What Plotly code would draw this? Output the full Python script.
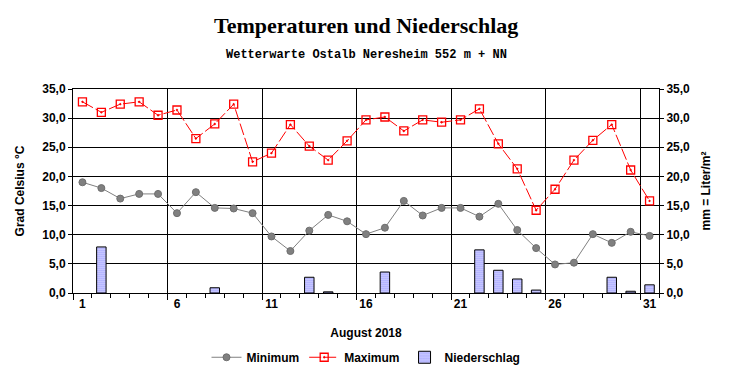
import plotly.graph_objects as go

days = list(range(1, 32))
t_min = [19.0, 18.0, 16.2, 17.0, 17.0, 13.7, 17.3, 14.6, 14.5, 13.7, 9.7,
         7.2, 10.7, 13.4, 12.3, 10.1, 11.2, 15.8, 13.3, 14.6, 14.6,
         13.1, 15.3, 10.8, 7.7, 4.9, 5.2, 10.1, 8.6, 10.5, 9.8]
t_max = [32.8, 31.0, 32.4, 32.8, 30.5, 31.4, 26.5, 29.0, 32.4, 22.5, 24.0,
         28.9, 25.2, 22.8, 26.1, 29.7, 30.2, 27.8, 29.7, 29.3, 29.7,
         31.6, 25.6, 21.3, 14.2, 17.8, 22.8, 26.2, 28.9, 21.1, 15.8]
precip = [0, 7.9, 0, 0, 0, 0, 0, 0.9, 0, 0, 0,
          0, 2.7, 0.2, 0, 0, 3.6, 0, 0, 0, 0,
          7.4, 3.9, 2.4, 0.5, 0, 0, 0, 2.7, 0.3, 1.4]
tick_days = [1, 6, 11, 16, 21, 26, 31]

FONT = "Liberation Sans, Arial, sans-serif"
bold = dict(family=FONT, size=12, color="black", weight="bold")

# the page body adds an 8px offset; compensate so the view matches 732x380
OFF = 8
W, H = 732 - OFF, 380 - OFF
ML, MR, MT, MB = 73 - OFF, 73, 89 - OFF, 87

fig = go.Figure()
fig.add_trace(go.Scatter(
    x=days, y=t_min, name="Minimum", mode="lines+markers",
    line=dict(color="#808080", width=1),
    marker=dict(symbol="circle", size=7, color="#808080", line=dict(color="#6e6e6e", width=1)),
    xaxis="x", yaxis="y"))
fig.add_trace(go.Scatter(
    x=days, y=t_max, name="Maximum", mode="lines+markers",
    line=dict(color="#ff0000", width=1, dash="12px,3px"),
    marker=dict(symbol="square-open-dot", size=8, color="#ff0000", line=dict(width=1.3)),
    xaxis="x", yaxis="y"))
fig.add_trace(go.Bar(
    x=days, y=[v if v > 0 else None for v in precip], name="Niederschlag", width=0.5,
    marker=dict(color="white", line=dict(color="black", width=1),
                pattern=dict(shape=".", fgcolor="#0000ff", bgcolor="white", size=2, solidity=0.6)),
    xaxis="x2", yaxis="y2"))

fig.update_layout(
    width=W, height=H,
    margin=dict(l=ML, r=MR, t=MT, b=MB, autoexpand=False),
    paper_bgcolor="white", plot_bgcolor="white",
    separators=",.",
    font=bold,
    showlegend=True,
    legend=dict(orientation="h", x=0.5, xanchor="center", y=-0.315, yanchor="middle",
                font=bold, traceorder="normal", itemwidth=30),
    xaxis=dict(range=[0.5, 31.5], tickmode="array", tickvals=tick_days,
               ticktext=[str(d) for d in tick_days], showgrid=False, ticks="",
               zeroline=False, showline=True, linecolor="black", linewidth=1, mirror=True,
               tickfont=bold, automargin=False,
               title=dict(text="August 2018", font=bold, standoff=18)),
    xaxis2=dict(range=[0.5, 31.5], overlaying="x", side="bottom", anchor="y2",
                tickmode="linear", tick0=0.5, dtick=5, showticklabels=False,
                showgrid=True, gridcolor="black", gridwidth=1,
                ticks="outside", ticklen=6, tickcolor="black",
                minor=dict(tickmode="linear", tick0=0.5, dtick=1, ticks="outside",
                           ticklen=4, tickcolor="black", showgrid=False),
                zeroline=False, showline=False, automargin=False),
    yaxis=dict(range=[0, 35], dtick=5, tick0=0, tickformat=".1f",
               showgrid=True, gridcolor="black", gridwidth=1,
               ticks="outside", ticklen=4, tickcolor="black",
               zeroline=False, showline=True, linecolor="black", mirror=True,
               tickfont=bold, automargin=False,
               title=dict(text="Grad Celsius °C", font=bold, standoff=15)),
    yaxis2=dict(range=[0, 35], dtick=5, tick0=0, tickformat=".1f", overlaying="y",
                side="right", anchor="x2", showgrid=False,
                ticks="outside", ticklen=4, tickcolor="black",
                zeroline=False, showline=True, linecolor="black",
                tickfont=bold, automargin=False,
                title=dict(text="mm = Liter/m²", font=bold, standoff=12)),
    annotations=[
        dict(text="Temperaturen und Niederschlag", x=0.5, y=25, xref="paper", yref="paper",
             showarrow=False, xanchor="center", yanchor="middle",
             font=dict(family="Liberation Serif, Times New Roman, serif", size=22,
                       color="black", weight="bold")),
        dict(text="Wetterwarte Ostalb Neresheim 552 m + NN", x=0.5, y=55,
             xref="paper", yref="paper", showarrow=False,
             xanchor="center", yanchor="middle",
             font=dict(family="Liberation Mono, Courier New, monospace", size=12,
                       color="black", weight="bold")),
    ],
)
# convert title pixel positions (in reference view coords) to paper coordinates
plot_h = H - MT - MB
plot_w = W - ML - MR
for ann in fig.layout.annotations:
    ann.y = 1 + (89 - ann.y) / plot_h
    ann.x = (366 - 73) / plot_w

fig.write_html("out.html")
